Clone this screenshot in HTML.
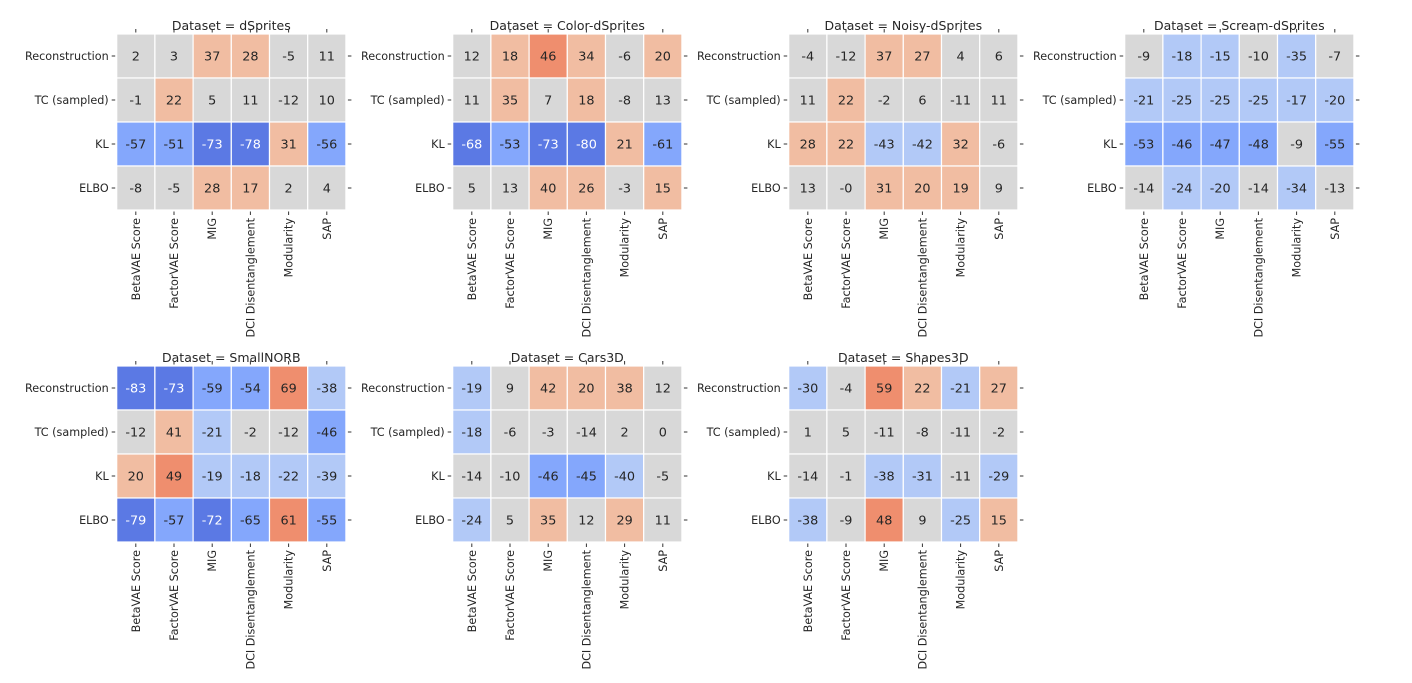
<!DOCTYPE html>
<html><head><meta charset="utf-8"><style>
html,body{margin:0;padding:0;background:#fff;}
svg{display:block;font-family:"DejaVu Sans","Liberation Sans",sans-serif;}
</style></head><body>
<svg id="chart" width="1412" height="683" viewBox="0 0 1412 683" xmlns="http://www.w3.org/2000/svg"></svg>
<script>
const datasets = ["dSprites","Color-dSprites","Noisy-dSprites","Scream-dSprites","SmallNORB","Cars3D","Shapes3D"];
const rowLabels = ["Reconstruction","TC (sampled)","KL","ELBO"];
const colLabels = ["BetaVAE Score","FactorVAE Score","MIG","DCI Disentanglement","Modularity","SAP"];
const valsDSprites = [[2,3,37,28,-5,11],[-1,22,5,11,-12,10],[-57,-51,-73,-78,31,-56],[-8,-5,28,17,2,4]];
const valsColor = [[12,18,46,34,-6,20],[11,35,7,18,-8,13],[-68,-53,-73,-80,21,-61],[5,13,40,26,-3,15]];
const valsNoisy = [[-4,-12,37,27,4,6],[11,22,-2,6,-11,11],[28,22,-43,-42,32,-6],[13,-0,31,20,19,9]];
const valsScream = [[-9,-18,-15,-10,-35,-7],[-21,-25,-25,-25,-17,-20],[-53,-46,-47,-48,-9,-55],[-14,-24,-20,-14,-34,-13]];
const valsNorb = [[-83,-73,-59,-54,69,-38],[-12,41,-21,-2,-12,-46],[20,49,-19,-18,-22,-39],[-79,-57,-72,-65,61,-55]];
const valsCars = [[-19,9,42,20,38,12],[-18,-6,-3,-14,2,0],[-14,-10,-46,-45,-40,-5],[-24,5,35,12,29,11]];
const valsShapes = [[-30,-4,59,22,-21,27],[1,5,-11,-8,-11,-2],[-14,-1,-38,-31,-11,-29],[-38,-9,48,9,-25,15]];
const allVals = [valsDSprites,valsColor,valsNoisy,valsScream,valsNorb,valsCars,valsShapes];

const NS="http://www.w3.org/2000/svg";
const svg=document.getElementById('chart');
const CW=38.2, CH=44;
function panelX(i){return 116.7+(i%4)*336;}
function panelY(i){return i<4?34:366;}
function xPos(p,c){return panelX(p)+c*CW;}
function yPos(p,r){return panelY(p)+r*CH;}
function colorFor(v){
  if(v<=-66) return "#5b79e4";
  if(v<=-44) return "#84a7fc";
  if(v<=-14.5) return "#b2c9f7";
  if(v<14.5) return "#d8d8d8";
  if(v<45) return "#f1bda2";
  return "#ef8e6e";
}
function mk(tag,attrs){const e=document.createElementNS(NS,tag);for(const k in attrs)e.setAttribute(k,attrs[k]);svg.appendChild(e);return e;}
const slug=s=>s.toLowerCase().replace(/[^a-z0-9]+/g,'-').replace(/-+$/,'');
allVals.forEach((vals,p)=>{
  const x0=panelX(p), y0=panelY(p);
  const t=mk('text',{x:x0+CW*3,y:y0-4,'text-anchor':'middle','font-size':'12.5',fill:'#262626'});
  
  
  t.textContent="Dataset = "+datasets[p];
  vals.forEach((row,r)=>{
    row.forEach((v,c)=>{
      const rc=mk('rect',{x:xPos(p,c),y:yPos(p,r),width:CW,height:CH,fill:colorFor(v),stroke:'#fff','stroke-width':'1.2'});
      
      
      const tx=mk('text',{x:xPos(p,c)+CW/2,y:yPos(p,r)+CH/2+4.6,'text-anchor':'middle','font-size':'12.8',fill:(v<=-66?'#ffffff':'#262626')});
      
      
      tx.textContent=(Object.is(v,-0)?"-0":String(v));
    });
    const yc=yPos(p,r)+CH/2;
    const lab=mk('text',{x:x0-8,y:yc+4,'text-anchor':'end','font-size':'11.2',fill:'#262626'});
    
    
    lab.textContent=rowLabels[r];
    mk('line',{x1:x0-5,x2:x0-1.5,y1:yc,y2:yc,stroke:'#333','stroke-width':'1'});
    mk('line',{x1:x0+6*CW+2,x2:x0+6*CW+5.5,y1:yc,y2:yc,stroke:'#333','stroke-width':'1'});
  });
  colLabels.forEach((cl,c)=>{
    const xc=xPos(p,c)+CW/2, yb=y0+4*CH;
    mk('line',{x1:xc,x2:xc,y1:yb+1.5,y2:yb+5,stroke:'#333','stroke-width':'1'});
    mk('line',{x1:xc,x2:xc,y1:y0-5,y2:y0-1.5,stroke:'#333','stroke-width':'1'});
    const lab=mk('text',{x:0,y:0,'text-anchor':'end','font-size':'11.2',fill:'#262626',transform:'translate('+(xc+4)+','+(yb+8)+') rotate(-90)'});
    
    
    lab.textContent=cl;
  });
});
</script>
</body></html>
